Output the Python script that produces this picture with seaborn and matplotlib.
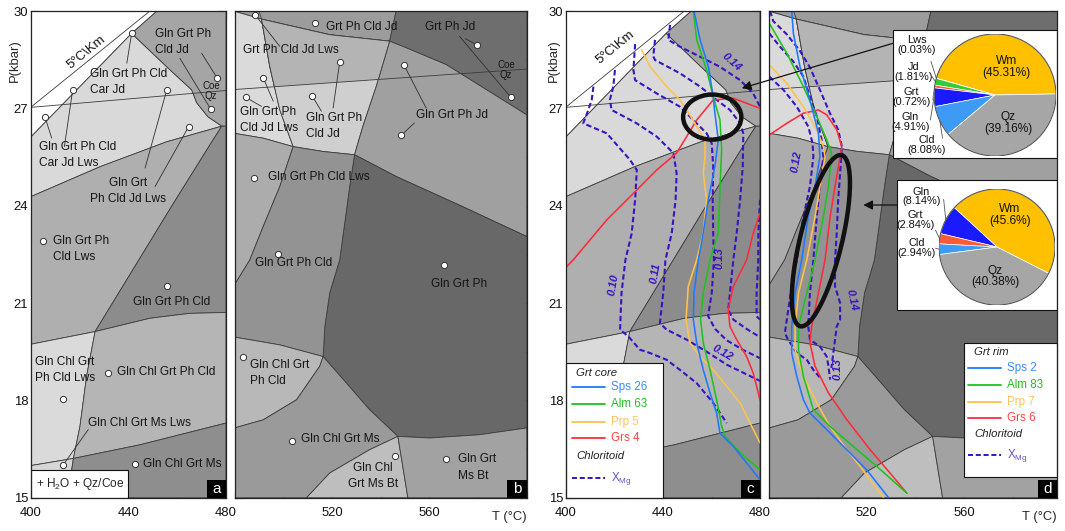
import numpy as np
import matplotlib
matplotlib.use("Agg")
import matplotlib.pyplot as plt
import seaborn as sns
import pandas as pd
from matplotlib.patches import Polygon, Ellipse, Rectangle, Circle

sns.set_style("ticks")
plt.rcParams['font.family'] = ['Liberation Sans', 'DejaVu Sans']
plt.rcParams['mathtext.fontset'] = 'custom'
plt.rcParams['mathtext.rm'] = 'Liberation Sans'
plt.rcParams['mathtext.it'] = 'Liberation Sans:italic'

PIE_FS = 7.9

# ---------------- pseudosection fields, panel a / c (T degC, P kbar) -------------
A_WHITE = [(400, 26.12), (441.3, 29.31), (451.7, 30), (400, 30)]
A_CARJD = [(400, 26.12), (441.3, 29.31), (455.7, 28.28), (465.9, 27.57), (468, 27.17), (472.6, 26.74),
           (478.3, 26.45), (455.7, 25.97), (428.3, 25.2), (400, 24.28)]
A_CLDJD = [(441.3, 29.31), (451.7, 30), (480, 30), (480, 26.45), (478.3, 26.45), (472.6, 26.74),
           (468, 27.17), (465.9, 27.57), (455.7, 28.28)]
A_LWS = [(400, 24.28), (428.3, 25.2), (455.7, 25.97), (478.3, 26.45), (474.7, 26.03), (457.6, 23.97),
         (426.3, 20.12), (400, 19.73)]
A_CLD = [(478.3, 26.45), (480, 26.45), (480, 20.71), (465, 20.68), (448.8, 20.53), (426.3, 20.12),
         (457.6, 23.97), (474.7, 26.03)]
A_CHLLWS = [(400, 19.73), (426.3, 20.12), (422.8, 18.74), (420.1, 17.2), (417.4, 16.21), (400, 15.99)]
A_CHL = [(426.3, 20.12), (448.8, 20.53), (465, 20.68), (480, 20.71), (480, 17.3), (444.7, 16.63),
         (417.4, 16.21), (420.1, 17.2), (422.8, 18.74)]
A_MSLWS = [(400, 15.99), (417.4, 16.21), (416.7, 15.86), (415.3, 15), (400, 15)]
A_MS = [(417.4, 16.21), (444.7, 16.63), (480, 17.3), (480, 15), (415.3, 15), (416.7, 15.86)]
A_FIELDS = [A_WHITE, A_CARJD, A_CLDJD, A_LWS, A_CLD, A_CHLLWS, A_CHL, A_MSLWS, A_MS]
A_COLORS = ['#ffffff', '#d9d9d9', '#a5a5a5', '#afafaf', '#8c8c8c', '#dadada', '#b5b5b5', '#d6d6d6', '#8e8e8e']
A_GEOTHERM = [(400, 27.04), (448.8, 30)]
A_COE = [(400, 27.03), (480, 27.55)]

# ---------------- pseudosection fields, panel b / d -------------
B_TOP = [(480, 30), (546.4, 30), (543.7, 29.07), (519.1, 29.27), (491.1, 29.75), (480, 29.99)]
B_TOPR = [(546.4, 30), (600, 30), (600, 26.8), (566.9, 28.35), (549.1, 28.91), (543.7, 29.07)]
B_LIGHT = [(480, 29.99), (491.1, 29.75), (494.5, 28.28), (498.6, 26.95), (504.1, 25.82), (491.8, 26.08), (480, 26.23)]
B_MID = [(491.1, 29.75), (519.1, 29.27), (543.7, 29.07), (538.2, 27.67), (532.7, 26.44), (529.3, 25.57),
         (516.4, 25.67), (504.1, 25.82), (498.6, 26.95), (494.5, 28.28)]
B_JD = [(543.7, 29.07), (549.1, 28.91), (566.9, 28.35), (600, 26.8), (600, 23.05), (573.7, 23.97),
        (546.4, 24.9), (529.3, 25.57), (532.7, 26.44), (538.2, 27.67)]
B_PH = [(529.3, 25.57), (546.4, 24.9), (573.7, 23.97), (600, 23.05), (600, 17.15), (580.5, 16.94),
        (560.1, 16.84), (547.1, 16.89), (535.5, 17.71), (526, 18.53), (516.4, 19.35), (517.1, 20.28),
        (519.1, 21.31), (523.2, 22.33), (527.3, 24.59)]
B_LWS = [(480, 26.23), (491.8, 26.08), (504.1, 25.82), (498.6, 24.59), (491.8, 23.36), (486.3, 22.33), (480, 21.56)]
B_CLD = [(504.1, 25.82), (516.4, 25.67), (529.3, 25.57), (527.3, 24.59), (523.2, 22.33), (519.1, 21.31),
         (517.1, 20.28), (516.4, 19.35), (498.6, 19.71), (480, 19.95), (480, 21.56), (486.3, 22.33),
         (491.8, 23.36), (498.6, 24.59)]
B_CHL = [(480, 19.95), (498.6, 19.71), (516.4, 19.35), (515, 19.05), (505.5, 18.02), (491.8, 17.4), (480, 17.15)]
B_MS = [(480, 17.15), (491.8, 17.4), (505.5, 18.02), (515, 19.05), (516.4, 19.35), (526, 18.53), (535.5, 17.71),
        (547.1, 16.89), (535.5, 16.48), (519.1, 15.76), (509.6, 15), (480, 15)]
B_MSBT = [(509.6, 15), (519.1, 15.76), (535.5, 16.48), (547.1, 16.89), (551.2, 15)]
B_BT = [(547.1, 16.89), (560.1, 16.84), (580.5, 16.94), (600, 17.15), (600, 15), (551.2, 15)]
B_FIELDS = [B_TOP, B_TOPR, B_LIGHT, B_MID, B_JD, B_PH, B_LWS, B_CLD, B_CHL, B_MS, B_MSBT, B_BT]
B_COLORS = ['#9c9c9c', '#6e6e6e', '#dadada', '#cfcfcf', '#a0a0a0', '#686868', '#acacac', '#939393',
            '#b8b8b8', '#9a9a9a', '#bebebe', '#a2a2a2']
B_MID_ABOVE_COE = '#b4b4b4'
B_COE = [(480, 27.58), (600, 28.21)]
B_C1_TOP = [(490.0, 30), (491.1, 29.75)]

# ---------------- field labels -------------
A_LABELS = [("Gln Grt Ph\nCld Jd", 450.9, 29.05, 'left'), ("Gln Grt Ph Cld\nCar Jd", 424.2, 27.81, 'left'),
            ("Gln Grt Ph Cld\nCar Jd Lws", 403.4, 25.57, 'left'), ("Gln Grt\nPh Cld Jd Lws", 439.8, 24.44, 'center'),
            ("Gln Grt Ph\nCld Lws", 409.1, 22.67, 'left'), ("Gln Grt Ph Cld", 441.7, 21.04, 'left'),
            ("Gln Chl Grt\nPh Cld Lws", 401.6, 18.94, 'left'), ("Gln Chl Grt Ph Cld", 435.1, 18.88, 'left'),
            ("Gln Chl Grt Ms Lws", 423.5, 17.31, 'left'), ("Gln Chl Grt Ms", 445.8, 16.05, 'left')]
A_SMALL = [("Coe\nQz", 473.8, 27.53)]
A_DOT_T = [441.3, 417.1, 405.7, 455.7, 464.7, 476.4, 473.7, 405.1, 455.7, 431.7, 413.3, 413.3, 442.7]
A_DOT_P = [29.31, 27.57, 26.74, 27.57, 26.44, 27.93, 26.98, 22.9, 21.51, 18.84, 18.04, 16.02, 16.05]
A_LEADERS = [((441.3, 29.31), (439.3, 28.39)), ((417.1, 27.57), (413.7, 25.82)), ((405.7, 26.74), (408.5, 26.08)),
             ((455.7, 27.57), (446.8, 25.16)), ((464.7, 26.44), (450.9, 24.59)), ((476.4, 27.93), (470.0, 28.7)),
             ((473.7, 26.98), (461.1, 28.54)), ((413.3, 16.02), (423.5, 17.1))]

B_LABELS = [("Grt Ph Cld Jd", 517.5, 29.51, 'left'), ("Grt Ph Jd", 558.3, 29.51, 'left'),
            ("Grt Ph Cld Jd Lws", 483.6, 28.8, 'left'), ("Gln Grt Ph\nCld Jd Lws", 482.3, 26.64, 'left'),
            ("Gln Grt Ph\nCld Jd", 509.3, 26.46, 'left'), ("Gln Grt Ph Jd", 554.6, 26.8, 'left'),
            ("Gln Grt Ph Cld Lws", 493.9, 24.89, 'left'), ("Gln Grt Ph Cld", 488.4, 22.22, 'left'),
            ("Gln Grt Ph", 560.8, 21.59, 'left'), ("Gln Chl Grt\nPh Cld", 486.3, 18.84, 'left'),
            ("Gln Chl Grt Ms", 507.5, 16.82, 'left'), ("Gln Chl\nGrt Ms Bt", 536.9, 15.66, 'center'),
            ("Gln Grt\nMs Bt", 571.7, 15.93, 'left')]
B_SMALL = [("Coe\nQz", 591.6, 28.18)]
B_DOT_T = [513.0, 579.4, 593.5, 488.4, 491.8, 484.6, 512.0, 523.2, 549.5, 548.5, 488.1, 497.7, 565.9, 483.4, 503.8, 546.1, 566.9]
B_DOT_P = [29.63, 28.96, 27.34, 29.89, 27.94, 27.34, 27.37, 28.42, 28.35, 26.17, 24.85, 22.52, 22.16, 19.35, 16.74, 16.3, 16.2]
B_LEADERS = [((488.4, 29.89), (498.6, 28.91)), ((491.8, 27.94), (495.9, 27.22)), ((484.6, 27.34), (491.1, 27.06)),
             ((512.0, 27.37), (515.7, 26.91)), ((523.2, 28.42), (520.5, 27.01)), ((549.5, 28.35), (558.7, 27.01)),
             ((548.5, 26.17), (553.9, 26.55)), ((593.5, 27.34), (572.4, 29.22)), ((579.4, 28.96), (574.8, 29.15))]

# ---------------- panel c overlays: garnet core isopleths and chloritoid XMg ----
C_SPS_T = [452.8, 455.3, 458.7, 460.7, 461.4, 462.8, 461.4, 458.7, 456.6, 454.6, 452.8, 452.5, 453.9, 456.6, 459.4, 462.1, 463.5, 469.0, 474.5, 480.0]
C_SPS_P = [30.0, 29.11, 28.29, 27.36, 26.85, 26.03, 25.21, 24.19, 23.16, 22.33, 21.31, 20.49, 19.77, 18.94, 18.23, 17.61, 16.99, 16.58, 16.07, 15.56]
C_ALM_T = [452.5, 453.9, 458.0, 460.7, 463.5, 464.2, 463.5, 462.8, 459.4, 456.6, 455.5, 456.6, 459.4, 462.1, 464.2, 465.6, 471.8, 480.0]
C_ALM_P = [30.0, 29.11, 28.18, 27.36, 26.64, 25.72, 24.59, 23.15, 22.33, 21.31, 20.49, 19.77, 18.94, 18.02, 17.2, 16.89, 16.38, 15.86]
C_PRP_T = [431.2, 434.6, 441.5, 447.0, 449.8, 453.9, 457.3, 457.3, 456.6, 458.0, 456.6, 453.9, 450.4, 449.5, 451.1, 455.3, 460.7, 466.3, 471.8, 475.9, 480.0]
C_PRP_P = [28.8, 28.29, 27.67, 27.26, 26.95, 26.44, 26.03, 25.52, 25.0, 24.19, 23.16, 22.33, 21.51, 20.49, 19.77, 19.35, 18.94, 18.43, 17.92, 17.3, 16.69]
C_GRS1_T = [400.0, 403.0, 416.8, 427.8, 437.4, 445.6, 453.9, 460.7, 469.0, 480.0]
C_GRS1_P = [22.1, 22.33, 23.56, 24.38, 25.1, 25.62, 26.64, 27.26, 27.31, 27.0]
C_GRS2_T = [480.0, 477.2, 474.5, 469.0, 466.9, 467.6, 470.4, 474.5, 477.2, 479.3, 480.0]
C_GRS2_P = [23.77, 23.15, 22.33, 21.51, 20.79, 20.28, 19.87, 19.35, 18.84, 18.23, 18.0]
C_X10_T = [411.3, 410.6, 409.2, 407.1, 416.8, 426.4, 429.2, 428.5, 427.1, 424.5, 422.9, 422.3, 425.7, 430.5, 434.6, 441.5, 447.0, 453.9, 460.7, 466.3]
C_X10_P = [27.67, 27.26, 26.95, 26.54, 26.23, 25.41, 25.1, 24.18, 23.15, 22.33, 21.31, 20.18, 19.97, 19.56, 19.46, 19.25, 18.94, 18.53, 17.92, 17.3]
C_X11_T = [420.2, 419.5, 418.1, 418.8, 429.1, 437.4, 444.3, 445.6, 445.2, 443.6, 441.0, 440.1, 438.7, 441.5, 449.8, 458.0, 466.3, 474.5, 480.0]
C_X11_P = [28.18, 27.67, 27.26, 26.95, 26.54, 26.13, 25.62, 25.0, 24.18, 23.15, 22.33, 21.31, 20.38, 20.18, 19.87, 19.5, 19.1, 18.8, 18.6]
C_X12_T = [428.5, 427.8, 428.5, 437.4, 447.0, 452.5, 458.0, 460.1, 460.7, 460.5, 460.7, 461.0, 460.1, 458.6, 461.5, 466.3, 473.1, 480.0]
C_X12_P = [28.98, 28.18, 27.87, 27.46, 27.05, 26.64, 26.23, 25.92, 25.21, 24.18, 23.16, 22.33, 21.31, 20.6, 20.2, 19.85, 19.55, 19.3]
C_X13_T = [436.7, 436.0, 436.7, 447.0, 455.3, 462.1, 467.6, 471.8, 473.1, 472.9, 471.8, 470.4, 469.0, 467.6, 466.9, 469.0, 474.5, 480.0]
C_X13_P = [29.11, 28.6, 28.49, 28.08, 27.67, 27.26, 26.95, 26.54, 26.23, 25.21, 24.18, 23.16, 22.33, 21.31, 20.79, 20.49, 20.2, 19.95]
C_X14_T = [442.9, 442.2, 447.0, 455.3, 463.5, 471.8, 477.2, 480.0]
C_X14_P = [29.57, 29.11, 28.9, 28.59, 28.28, 27.87, 27.46, 27.05]
C_X14B_T = [480.0, 479.3, 479.3, 478.6, 478.6, 480.0]
C_X14B_P = [24.18, 23.16, 22.33, 21.31, 20.59, 20.49]
C_XMG_LABELS = [("0.10", 419.4, 21.56, 80), ("0.11", 436.7, 21.93, 80), ("0.12", 464.7, 19.45, -30),
                ("0.13", 463.3, 22.4, 90), ("0.14", 468.5, 28.43, -42)]

# ---------------- panel d overlays: garnet rim isopleths and chloritoid XMg ----
D_SPS_T = [489.2, 489.9, 492.6, 496.7, 500.2, 500.8, 498.8, 496.0, 493.3, 490.6, 489.2, 489.2, 491.3, 494.0, 496.7, 503.6, 511.8, 520.0, 528.9]
D_SPS_P = [30.0, 29.31, 28.29, 27.26, 26.23, 25.51, 24.59, 23.66, 22.33, 21.31, 20.28, 19.46, 18.74, 18.02, 17.61, 17.1, 16.48, 15.86, 15.01]
D_ALM_T = [480.0, 487.2, 494.0, 499.5, 503.6, 505.6, 504.3, 502.2, 498.8, 495.4, 492.0, 492.0, 494.0, 498.1, 504.9, 514.5, 524.1, 536.5]
D_ALM_P = [29.62, 28.7, 27.67, 26.75, 26.03, 25.62, 24.59, 23.66, 22.33, 21.31, 20.28, 19.56, 18.74, 17.71, 17.2, 16.58, 15.97, 15.14]
D_PRP_T = [480.0, 487.2, 494.0, 499.5, 502.2, 502.9, 500.8, 498.8, 495.4, 492.0, 490.6, 490.6, 494.0, 499.5, 504.9, 511.8, 517.3, 521.4, 526.9]
D_PRP_P = [28.34, 27.77, 27.05, 26.34, 25.82, 25.51, 24.59, 23.66, 22.33, 21.31, 20.28, 19.56, 18.74, 17.92, 17.2, 16.48, 15.97, 15.55, 15.01]
D_GRS_T = [480.0, 487.2, 494.0, 500.2, 503.6, 507.7, 509.8, 509.1, 507.0, 505.0, 502.9, 500.2, 497.4, 496.7, 498.8, 504.3, 511.8, 521.4, 529.6, 536.5]
D_GRS_P = [26.18, 26.54, 26.85, 26.95, 26.8, 26.34, 25.82, 25.51, 24.59, 23.66, 22.33, 21.31, 20.28, 19.77, 19.05, 18.23, 17.41, 16.48, 15.76, 15.14]
D_X12_T = [480.0, 485.8, 491.3, 496.0, 497.8, 498.1, 496.7, 494.0, 491.3, 489.2, 487.2, 486.4, 487.7, 491.3, 495.4, 498.1, 501.5]
D_X12_P = [27.98, 27.57, 27.05, 26.44, 25.92, 25.51, 24.59, 23.66, 22.33, 21.51, 20.49, 20.08, 19.87, 19.46, 19.25, 18.94, 18.64]
D_X13_T = [480.0, 484.4, 489.9, 494.0, 496.7, 499.5, 501.5, 502.2, 500.8, 499.5, 498.1, 496.7, 496.0, 496.7, 500.8, 503.6, 504.3, 505.0]
D_X13_P = [29.31, 28.9, 28.44, 27.98, 27.36, 26.75, 26.03, 25.51, 24.59, 23.66, 22.33, 21.31, 20.28, 19.87, 19.66, 19.35, 19.05, 18.64]
D_X14_T = [480.3, 481.6, 487.2, 492.6, 496.7, 500.8, 504.9, 508.3, 509.8, 509.1, 508.3, 507.7, 507.0, 507.0, 509.1, 509.1, 507.7, 507.0, 506.3, 505.5]
D_X14_P = [30.0, 29.69, 29.28, 28.77, 28.26, 27.57, 26.85, 26.34, 25.82, 25.0, 24.18, 23.15, 22.33, 21.51, 21.0, 20.49, 20.28, 19.87, 19.46, 19.0]
D_XMG_LABELS = [("0.12", 491.3, 25.35, 80), ("0.14", 513.8, 21.1, -78), ("0.13", 508.0, 18.96, 90)]

# ---------------- modal compositions (pie charts) ----------------
PIE1_NAMES = ["Wm", "Lws", "Jd", "Grt", "Gln", "Cld", "Qz"]
PIE1_VALUES = [45.31, 0.03, 1.81, 0.72, 4.91, 8.08, 39.16]
PIE2_NAMES = ["Wm", "Gln", "Grt", "Cld", "Qz"]
PIE2_VALUES = [45.6, 8.14, 2.84, 2.94, 40.38]
PIE_COLORS = {"Wm": "#ffc000", "Lws": "#8c8c8c", "Jd": "#33cc33", "Grt": "#ff5a36", "Gln": "#1a1aff",
              "Cld": "#3d9bf5", "Qz": "#a6a6a6"}

# ---------------- legends ----------------
CORE_LABELS = ["Sps 26", "Alm 63", "Prp 5", "Grs 4"]
RIM_LABELS = ["Sps 2", "Alm 83", "Prp 7", "Grs 6"]
LINE_COLORS = ["#1f78ff", "#1dc41d", "#ffc24a", "#ff2b3b"]
TEXT_COLORS = ["#3a8dff", "#22c022", "#ffc45a", "#ff4545"]
XMG_COLOR = "#3a14c2"

FIELD_EDGE = '#3c3c3c'
LABEL_FS = 8.6
TICK_FS = 9.4

# ---------------- figure ----------------
W, H = 1065, 531
fig = plt.figure(figsize=(W / 100, H / 100), dpi=100)
bottom_px, top_px = 497.7, 11.0
def add_ax(left_px, right_px):
    return fig.add_axes([left_px / W, (H - bottom_px) / H, (right_px - left_px) / W, (bottom_px - top_px) / H])

ax_a = add_ax(31, 226)
ax_b = add_ax(234.5, 526.7)
ax_c = add_ax(566, 760)
ax_d = add_ax(769.3, 1057)


def draw_fields(ax, fields, colors):
    for poly, col in zip(fields, colors):
        ax.add_patch(Polygon(poly, closed=True, fc=col, ec=FIELD_EDGE, lw=0.6, zorder=1, joinstyle='round'))


def draw_line(ax, pts, lw=0.6, color=FIELD_EDGE, z=2):
    t, p = zip(*pts)
    ax.plot(t, p, color=color, lw=lw, zorder=z, solid_capstyle='butt')


def base_a(ax, geo_pos):
    draw_fields(ax, A_FIELDS, A_COLORS)
    draw_line(ax, A_COE)
    draw_line(ax, A_GEOTHERM)
    ax.text(geo_pos[0], geo_pos[1], "5°C\\Km", rotation=39, fontsize=9.5, ha='center', va='center', zorder=3,
            color='#111111', rotation_mode='anchor')


def base_b(ax):
    draw_fields(ax, B_FIELDS, B_COLORS)
    clip = Polygon([(480, B_COE[0][1]), (600, B_COE[1][1]), (600, 30), (480, 30)], closed=True,
                   transform=ax.transData)
    over = Polygon(B_MID, closed=True, fc=B_MID_ABOVE_COE, ec=FIELD_EDGE, lw=0.6, zorder=1.2)
    ax.add_patch(over)
    over.set_clip_path(clip)
    draw_line(ax, B_COE)
    draw_line(ax, B_C1_TOP)


def put_labels(ax, labels, small, dot_t, dot_p, leaders):
    for txt, t, p, ha in labels:
        ax.text(t, p, txt, fontsize=LABEL_FS, ha=ha, va='center', multialignment=ha,
                linespacing=1.45, color='#151515', zorder=3)
    for txt, t, p in small:
        ax.text(t, p, txt, fontsize=7, ha='center', va='center', linespacing=1.05, color='#151515', zorder=3)
    for (t0, p0), (t1, p1) in leaders:
        ax.plot([t0, t1], [p0, p1], color='#303030', lw=0.6, zorder=3)
    sns.scatterplot(x=dot_t, y=dot_p, ax=ax, s=20, color='white', edgecolor='#333333', linewidth=0.7,
                    zorder=4, legend=False)


def curve(ax, t, p, color, dashed=False):
    df = pd.DataFrame({'T': t, 'P': p})
    kw = dict(color=color, lw=1.5 if dashed else 1.15, zorder=4)
    if dashed:
        kw['linestyle'] = (0, (2.6, 1.4))
    sns.lineplot(data=df, x='T', y='P', sort=False, estimator=None, ax=ax, legend=False, **kw)


def xmg_labels(ax, labels):
    for txt, t, p, rot in labels:
        ax.text(t, p, txt, rotation=rot, fontsize=8, color=XMG_COLOR, style='italic', weight='bold',
                ha='center', va='center', zorder=5, rotation_mode='anchor')


def style_axes(ax, xlim, xmaj, xmin, ylab):
    ax.set_xlim(*xlim)
    ax.set_ylim(15, 30)
    ax.set_xlabel('')
    ax.set_ylabel('')
    ax.set_xticks(xmaj)
    ax.set_xticks(xmin, minor=True)
    ax.set_yticks([15, 18, 21, 24, 27, 30])
    ax.set_yticks([16.5, 19.5, 22.5, 25.5, 28.5], minor=True)
    ax.tick_params(which='both', direction='in', top=True, right=True, bottom=True, left=True,
                   width=0.8, color='#222222', labelsize=TICK_FS, labelcolor='#111111')
    ax.tick_params(which='major', length=6.0)
    ax.tick_params(which='minor', length=4.5)
    ax.tick_params(axis='x', pad=7)
    ax.tick_params(axis='y', pad=2)
    ax.tick_params(labelleft=ylab)
    for s in ax.spines.values():
        s.set_color('#222222')
        s.set_linewidth(0.9)
        s.set_zorder(10)


def letter_box(ax, letter):
    bb = ax.get_position()
    w = 19.5 / (bb.width * W)
    h = 18.0 / (bb.height * H)
    ax.add_patch(Rectangle((1 - w, 0), w, h, transform=ax.transAxes, fc='black', ec='black', lw=0, zorder=9))
    ax.text(1 - w / 2, h / 2, letter, transform=ax.transAxes, color='white', fontsize=11, ha='center',
            va='center', zorder=10)


def legend_box(ax, x0, y0, x1, y1, title, labels, rows, lx, tx, title_y, chl_y, xmg_y):
    ax.add_patch(Rectangle((x0, y0), x1 - x0, y1 - y0, transform=ax.transAxes, fc='white', ec='#111111',
                           lw=0.8, zorder=8, clip_on=False))
    ax.text(lx[0] + 0.02, title_y, title, transform=ax.transAxes, style='italic', fontsize=8.2,
            va='center', ha='left', zorder=9, color='#222222')
    for lab, lc, tc, y in zip(labels, LINE_COLORS, TEXT_COLORS, rows):
        ax.plot(lx, [y, y], transform=ax.transAxes, color=lc, lw=1.3, zorder=9, clip_on=False)
        ax.text(tx, y, lab, transform=ax.transAxes, color=tc, fontsize=8.4, va='center', ha='left', zorder=9)
    ax.text(lx[0] + 0.02, chl_y, "Chloritoid", transform=ax.transAxes, style='italic', fontsize=8.2,
            va='center', ha='left', zorder=9, color='#222222')
    ax.plot(lx, [xmg_y, xmg_y], transform=ax.transAxes, color=XMG_COLOR, lw=1.4, ls=(0, (2.6, 1.4)),
            zorder=9, clip_on=False)
    ax.text(tx, xmg_y, r"X$_{\mathrm{Mg}}$", transform=ax.transAxes, color='#6a50c8', fontsize=8.4,
            va='center', ha='left', zorder=9)


# ---------- panel a ----------
base_a(ax_a, (422.8, 28.74))
put_labels(ax_a, A_LABELS, A_SMALL, A_DOT_T, A_DOT_P, A_LEADERS)
style_axes(ax_a, (400, 480), [400, 440, 480], [420, 460], True)
ax_a.add_patch(Rectangle((0, 0), 0.496, 0.057, transform=ax_a.transAxes, fc='white', ec='#111111', lw=0.8, zorder=8))
ax_a.text(0.251, 0.029, r"+ H$_2$O + Qz/Coe", transform=ax_a.transAxes, fontsize=8.6, ha='center',
          va='center', zorder=9)
letter_box(ax_a, 'a')
ax_a.text(-0.085, 0.899, "P(kbar)", transform=ax_a.transAxes, rotation=90, fontsize=TICK_FS,
          ha='center', va='center')

# ---------- panel b ----------
base_b(ax_b)
put_labels(ax_b, B_LABELS, B_SMALL, B_DOT_T, B_DOT_P, B_LEADERS)
style_axes(ax_b, (480, 600), [520, 560], [480, 500, 540, 580, 600], False)
letter_box(ax_b, 'b')
ax_b.text(1.0, -0.027, "T (°C)", transform=ax_b.transAxes, fontsize=TICK_FS, ha='right', va='top')

# ---------- panel c ----------
base_a(ax_c, (420.2, 28.89))
for t, p in [(C_X10_T, C_X10_P), (C_X11_T, C_X11_P), (C_X12_T, C_X12_P), (C_X13_T, C_X13_P),
             (C_X14_T, C_X14_P), (C_X14B_T, C_X14B_P)]:
    curve(ax_c, t, p, XMG_COLOR, dashed=True)
curve(ax_c, C_GRS1_T, C_GRS1_P, LINE_COLORS[3])
curve(ax_c, C_GRS2_T, C_GRS2_P, LINE_COLORS[3])
curve(ax_c, C_PRP_T, C_PRP_P, LINE_COLORS[2])
curve(ax_c, C_ALM_T, C_ALM_P, LINE_COLORS[1])
curve(ax_c, C_SPS_T, C_SPS_P, LINE_COLORS[0])
xmg_labels(ax_c, C_XMG_LABELS)
ax_c.add_patch(Ellipse((460.3, 26.73), 24, 1.39, fill=False, ec='#111111', lw=3.2, zorder=6))
style_axes(ax_c, (400, 480), [400, 440, 480], [420, 460], True)
legend_box(ax_c, 0.0, 0.0, 0.5, 0.277, "Grt core", CORE_LABELS, [0.228, 0.192, 0.156, 0.122],
           [0.032, 0.201], 0.23, 0.257, 0.0866, 0.040)
letter_box(ax_c, 'c')
ax_c.text(-0.06, 0.899, "P(kbar)", transform=ax_c.transAxes, rotation=90, fontsize=TICK_FS,
          ha='center', va='center')

# ---------- panel d ----------
base_b(ax_d)
for t, p in [(D_X12_T, D_X12_P), (D_X13_T, D_X13_P), (D_X14_T, D_X14_P)]:
    curve(ax_d, t, p, XMG_COLOR, dashed=True)
curve(ax_d, D_GRS_T, D_GRS_P, LINE_COLORS[3])
curve(ax_d, D_PRP_T, D_PRP_P, LINE_COLORS[2])
curve(ax_d, D_ALM_T, D_ALM_P, LINE_COLORS[1])
curve(ax_d, D_SPS_T, D_SPS_P, LINE_COLORS[0])
xmg_labels(ax_d, D_XMG_LABELS)
style_axes(ax_d, (480, 598.2), [520, 560], [480, 500, 540, 580], False)
# tilted ellipse (defined in screen pixels)
bbd = ax_d.get_position()
px_T = bbd.width * W / (598.2 - 480)
px_P = bbd.height * H / 15.0
D_ELL_CENTER = (501.2, 22.92)
D_ELL_SEMI_PX = (88.0, 21.0)
D_ELL_ANGLE = np.deg2rad(76.4)
tt = np.linspace(0, 2 * np.pi, 200)
ex = D_ELL_SEMI_PX[0] * np.cos(tt) * np.cos(D_ELL_ANGLE) - D_ELL_SEMI_PX[1] * np.sin(tt) * np.sin(D_ELL_ANGLE)
ey = D_ELL_SEMI_PX[0] * np.cos(tt) * np.sin(D_ELL_ANGLE) + D_ELL_SEMI_PX[1] * np.sin(tt) * np.cos(D_ELL_ANGLE)
ax_d.plot(D_ELL_CENTER[0] + ex / px_T, D_ELL_CENTER[1] + ey / px_P, color='#111111', lw=3.2, zorder=6)
legend_box(ax_d, 0.677, 0.0425, 1.0, 0.317, "Grt rim", RIM_LABELS, [0.267, 0.2316, 0.197, 0.163],
           [0.692, 0.804], 0.825, 0.30, 0.131, 0.0877)
ax_d.add_patch(Rectangle((0.43, 0.698), 0.57, 0.263, transform=ax_d.transAxes, fc='white', ec='#111111',
                         lw=0.8, zorder=8))
ax_d.add_patch(Rectangle((0.4436, 0.3857), 0.5564, 0.2671, transform=ax_d.transAxes, fc='white', ec='#111111',
                         lw=0.8, zorder=8))
letter_box(ax_d, 'd')
ax_d.text(1.0, -0.027, "T (°C)", transform=ax_d.transAxes, fontsize=TICK_FS, ha='right', va='top')


# ---------- pies ----------
def draw_pie(cx, cy, r, names, values, start, labels_out, labels_in):
    ax = fig.add_axes([(cx - r) / W, (H - cy - r) / H, 2 * r / W, 2 * r / H])
    cols = [PIE_COLORS[n] for n in names]
    ax.pie(values, colors=cols, startangle=start, counterclock=True,
           wedgeprops=dict(edgecolor='white', linewidth=0.5))
    ax.add_patch(Circle((0, 0), 1.0, fill=False, ec='#555555', lw=0.8))
    ax.set_xlim(-1, 1)
    ax.set_ylim(-1, 1)
    ax.set_axis_off()
    tot = sum(values)
    cum = start
    mids = {}
    for n, v in zip(names, values):
        ang = 360 * v / tot
        mids[n] = cum + ang / 2
        cum += ang
    for n, (lx, ly), (sx, sy) in labels_out:
        pct = values[names.index(n)]
        ax.text(lx, ly, f"{n}\n({pct}%)", ha='center', va='center', fontsize=PIE_FS,
                linespacing=0.95, clip_on=False, color='#111111')
        a = np.deg2rad(mids[n])
        ax.plot([sx, np.cos(a)], [sy, np.sin(a)], color='#555555', lw=0.6, clip_on=False)
    for n, (lx, ly) in labels_in:
        pct = values[names.index(n)]
        ax.text(lx, ly, f"{n}\n({pct}%)", ha='center', va='center', fontsize=PIE_FS + 0.7,
                linespacing=0.95, color='#111111')
    return ax


draw_pie(995, 95, 61, PIE1_NAMES, PIE1_VALUES, 1,
         [("Lws", (-1.28, 0.82), (-1.05, 0.55)), ("Jd", (-1.34, 0.38), (-1.03, 0.30)),
          ("Grt", (-1.37, -0.03), (-1.02, -0.08)), ("Gln", (-1.39, -0.44), (-1.06, -0.41)),
          ("Cld", (-1.12, -0.82), (-0.86, -0.71))],
         [("Wm", (0.19, 0.46)), ("Qz", (0.22, -0.46))])
draw_pie(997, 247, 58, PIE2_NAMES, PIE2_VALUES, -27,
         [("Gln", (-1.30, 0.87), (-0.92, 0.82)), ("Grt", (-1.41, 0.47), (-1.06, 0.29)),
          ("Cld", (-1.38, -0.02), (-1.06, -0.02))],
         [("Wm", (0.22, 0.55)), ("Qz", (-0.03, -0.51))])

# ---------- arrows linking pies to ellipses ----------
ov = fig.add_axes([0, 0, 1, 1], zorder=20)
ov.set_xlim(0, W)
ov.set_ylim(H, 0)
ov.set_axis_off()
ov.patch.set_alpha(0)
ov.annotate('', xy=(472.5, 27.62), xycoords=ax_c.transData, xytext=(893, 43.3), textcoords='data',
            arrowprops=dict(arrowstyle='-|>', color='#111111', lw=0.9, mutation_scale=14, shrinkA=0, shrinkB=0),
            annotation_clip=False)
ov.annotate('', xy=(518.6, 24.02), xycoords=ax_d.transData, xytext=(897, 205), textcoords='data',
            arrowprops=dict(arrowstyle='-|>', color='#111111', lw=0.9, mutation_scale=14, shrinkA=0, shrinkB=0),
            annotation_clip=False)

fig.savefig("out.png", dpi=100)
